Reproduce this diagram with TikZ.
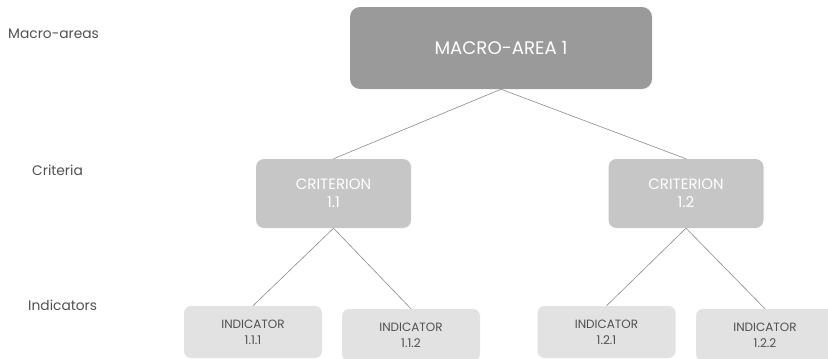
\documentclass[tikz,border=0pt]{standalone}
\usepackage{fontspec}
\setmainfont{Poppins}
\definecolor{macrofill}{HTML}{9A9A9A}
\definecolor{critfill}{HTML}{C6C6C6}
\definecolor{indfill}{HTML}{E2E2E2}
\definecolor{labeltext}{HTML}{505050}
\definecolor{linkcol}{HTML}{8A8A8A}
\tikzset{
  macrobox/.style={rectangle, rounded corners=10pt, fill=macrofill, text=white,
    minimum width=302pt, minimum height=82pt, inner sep=0pt,
    font=\fontsize{18.2}{20}\selectfont},
  critbox/.style={rectangle, rounded corners=8pt, fill=critfill, text=white,
    minimum width=155pt, minimum height=69pt, inner sep=0pt, align=center,
    font=\fontsize{15}{18}\selectfont},
  indbox/.style={rectangle, rounded corners=7pt, fill=indfill, text=labeltext,
    minimum width=138pt, minimum height=52pt, inner sep=0pt, align=center,
    font=\fontsize{12}{16}\selectfont},
  levellabel/.style={anchor=west, text=labeltext, inner sep=0pt,
    font=\fontsize{13.8}{15}\selectfont},
  link/.style={draw=linkcol, line width=0.6pt}
}
\begin{document}
\begin{tikzpicture}[x=1pt,y=-1pt]
\useasboundingbox (0,0) rectangle (828,359);
\node[levellabel] (lmacro) at (8,34) {Macro-areas};
\node[levellabel] (lcrit) at (32,170) {Criteria};
\node[levellabel] (lind) at (28,305) {Indicators};

\node[macrobox] (macro) at (501,48) {MACRO-AREA 1};
\node[critbox] (c11) at (333.5,193.5) {CRITERION\\1.1};
\node[critbox] (c12) at (686,193.5) {CRITERION\\1.2};
\node[indbox] (i111) at (253,332) {INDICATOR\\1.1.1};
\node[indbox] (i112) at (411,335) {INDICATOR\\1.1.2};
\node[indbox] (i121) at (606.5,332) {INDICATOR\\1.2.1};
\node[indbox] (i122) at (765,335) {INDICATOR\\1.2.2};

\draw[link] (macro.south) -- (c11.north);
\draw[link] (macro.south) -- (c12.north);
\draw[link] (c11.south) -- (i111.north);
\draw[link] (c11.south) -- (i112.north);
\draw[link] (c12.south) -- (i121.north);
\draw[link] (c12.south) -- (i122.north);
\end{tikzpicture}
\end{document}
